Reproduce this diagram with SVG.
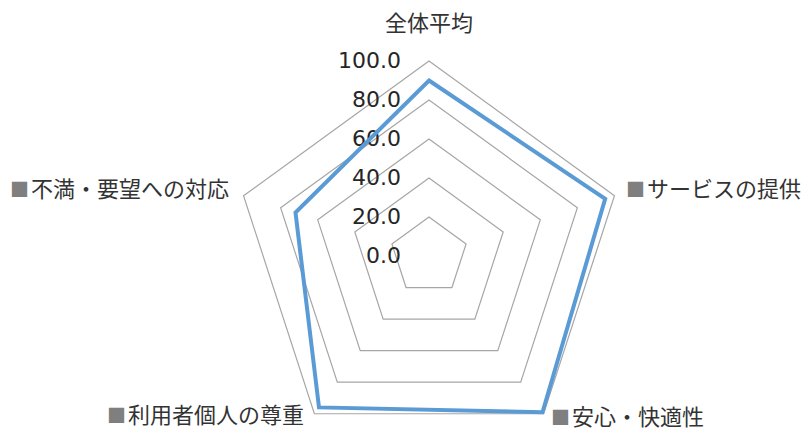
<svg xmlns="http://www.w3.org/2000/svg" width="812" height="434" viewBox="0 0 812 434">
<style>
.grid{fill:none;stroke:#a6a6a6;stroke-width:1.2}
.data{fill:none;stroke:#5b9bd5;stroke-width:4;stroke-linejoin:miter}
.num{font-family:"DejaVu Sans",sans-serif;font-size:22px;fill:#262626;text-anchor:end}
.lbl{font-family:"Noto Sans CJK JP","Noto Sans",sans-serif;font-size:22px;fill:#333333}
.sq{fill:#7f7f7f;font-size:19px}
</style>
<rect width="812" height="434" fill="#ffffff"/>
<g id="grid">
<polygon class="grid" points="429,217 466.09,243.95 451.92,287.55 406.08,287.55 391.91,243.95"/>
<polygon class="grid" points="429,178 503.19,231.9 474.85,319.1 383.15,319.1 354.81,231.9"/>
<polygon class="grid" points="429,139 540.28,219.85 497.77,350.65 360.23,350.65 317.72,219.85"/>
<polygon class="grid" points="429,100 577.37,207.8 520.7,382.2 337.3,382.2 280.63,207.8"/>
<polygon class="grid" points="429,61 614.46,195.74 543.62,413.76 314.38,413.76 243.54,195.74"/>
</g>
<g id="axis-labels">
<text class="num" x="401" y="68">100.0</text>
<text class="num" x="401" y="107">80.0</text>
<text class="num" x="401" y="146">60.0</text>
<text class="num" x="401" y="185">40.0</text>
<text class="num" x="401" y="224">20.0</text>
<text class="num" x="401" y="263">0.0</text>
</g>
<g id="series">
<polygon class="data" points="429,80.5 605.2,198.8 542.5,412.2 319,407.4 295.5,212.6"/>
</g>
<g id="cat-top"><text class="lbl" x="429" y="31" text-anchor="middle">全体平均</text></g>
<g id="cat-right"><text class="lbl" x="626" y="197"><tspan class="sq">■</tspan><tspan x="647">サービスの提供</tspan></text></g>
<g id="cat-br"><text class="lbl" x="551" y="425"><tspan class="sq">■</tspan><tspan x="572">安心・快適性</tspan></text></g>
<g id="cat-bl"><text class="lbl" x="107" y="423"><tspan class="sq">■</tspan><tspan x="128">利用者個人の尊重</tspan></text></g>
<g id="cat-left"><text class="lbl" x="10" y="197"><tspan class="sq">■</tspan><tspan x="31">不満・要望への対応</tspan></text></g>
</svg>
